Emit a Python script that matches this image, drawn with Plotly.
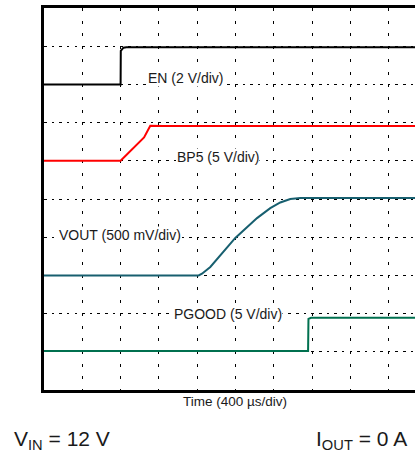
import plotly.graph_objects as go

# ---- data (time in µs, signals in volts) ----
en_t = [0, 800, 802, 830, 860, 3900]
en_v = [0, 0, 1.75, 1.92, 1.95, 1.95]

bp5_t = [0, 800, 1045, 1110, 1250, 3900]
bp5_v = [0, 0, 3.05, 4.6, 4.55, 4.55]

vout_t = [0, 1615, 1650, 1737, 1998, 2225, 2363, 2468, 2572, 2677, 3900]
vout_v = [0, 0, 0.022, 0.11, 0.49, 0.75, 0.88, 0.955, 1.0, 1.013, 1.013]

pg_t = [0, 2758, 2762, 2790, 3900]
pg_v = [0.1, 0.1, 4.3, 4.46, 4.46]

# channel settings: (volts per division, ground position in divisions)
ch_scale = {"EN": 2.0, "BP5": 5.0, "VOUT": 0.5, "PGOOD": 5.0}
ch_ground = {"EN": 8, "BP5": 6, "VOUT": 3, "PGOOD": 1}
ch_color = {"EN": "#000000", "BP5": "#ff0000", "VOUT": "#175f6f", "PGOOD": "#00704f"}
ch_label = {"EN": "EN (2 V/div)", "BP5": "BP5 (5 V/div)",
            "VOUT": "VOUT (500 mV/div)", "PGOOD": "PGOOD (5 V/div)"}
label_pos = {"EN": (1476, 8.18), "BP5": (1813, 6.09), "VOUT": (790, 4.05), "PGOOD": (1920, 2.0)}

time_per_div = 400
x_tick_divs = list(range(1, 10))
y_tick_divs = list(range(1, 10))

series = {"EN": (en_t, en_v), "BP5": (bp5_t, bp5_v), "VOUT": (vout_t, vout_v), "PGOOD": (pg_t, pg_v)}

fig = go.Figure()
for name, (t, v) in series.items():
    y = [ch_ground[name] + val / ch_scale[name] for val in v]
    fig.add_trace(go.Scatter(x=t, y=y, mode="lines", name=name,
                             line=dict(color=ch_color[name], width=2), hoverinfo="skip"))

font_family = "Liberation Sans, Arial, sans-serif"
annotations = []
for name in series:
    x, y = label_pos[name]
    annotations.append(dict(x=x, y=y, xref="x", yref="y", text=ch_label[name], showarrow=False,
                            font=dict(family=font_family, size=14, color="#1a1a1a"),
                            bgcolor="white", borderpad=0,
                            xanchor="center", yanchor="middle"))

annotations.append(dict(x=(235 - 44) / 371, y=0, xref="paper", yref="paper",
                        text="Time (400 µs/div)", showarrow=False, yshift=-11,
                        font=dict(family=font_family, size=13.5, color="#1a1a1a"),
                        xanchor="center", yanchor="middle"))
annotations.append(dict(x=(12 - 44) / 371, y=0, xref="paper", yref="paper",
                        text="V<sub>IN</sub> = 12 V", showarrow=False, yshift=-50,
                        font=dict(family=font_family, size=21, color="#1a1a1a"),
                        xanchor="left", yanchor="middle"))
annotations.append(dict(x=(409 - 44) / 371, y=0, xref="paper", yref="paper",
                        text="I<sub>OUT</sub> = 0 A", showarrow=False, yshift=-50,
                        font=dict(family=font_family, size=21, color="#1a1a1a"),
                        xanchor="right", yanchor="middle"))

fig.update_layout(
    width=415, height=453,
    margin=dict(l=44, r=0, t=8, b=63),
    paper_bgcolor="white", plot_bgcolor="white",
    showlegend=False,
    annotations=annotations,
)
fig.update_xaxes(range=[0, 371 / 38.3 * time_per_div],
                 tickvals=[d * time_per_div for d in x_tick_divs], showticklabels=False, ticks="",
                 showgrid=True, gridcolor="#000000", gridwidth=1, griddash="3px,9.7px",
                 zeroline=False, showline=True, linecolor="#000000", linewidth=2.5, mirror=True,
                 fixedrange=True)
fig.update_yaxes(range=[0, 10],
                 tickvals=y_tick_divs, showticklabels=False, ticks="",
                 showgrid=True, gridcolor="#000000", gridwidth=1, griddash="2.5px,5.14px",
                 zeroline=False, showline=True, linecolor="#000000", linewidth=2.5, mirror=False,
                 fixedrange=True)

fig.write_html("out.html", config={"displayModeBar": False},
               post_script="document.body.style.margin='0';document.body.style.overflow='hidden';")
